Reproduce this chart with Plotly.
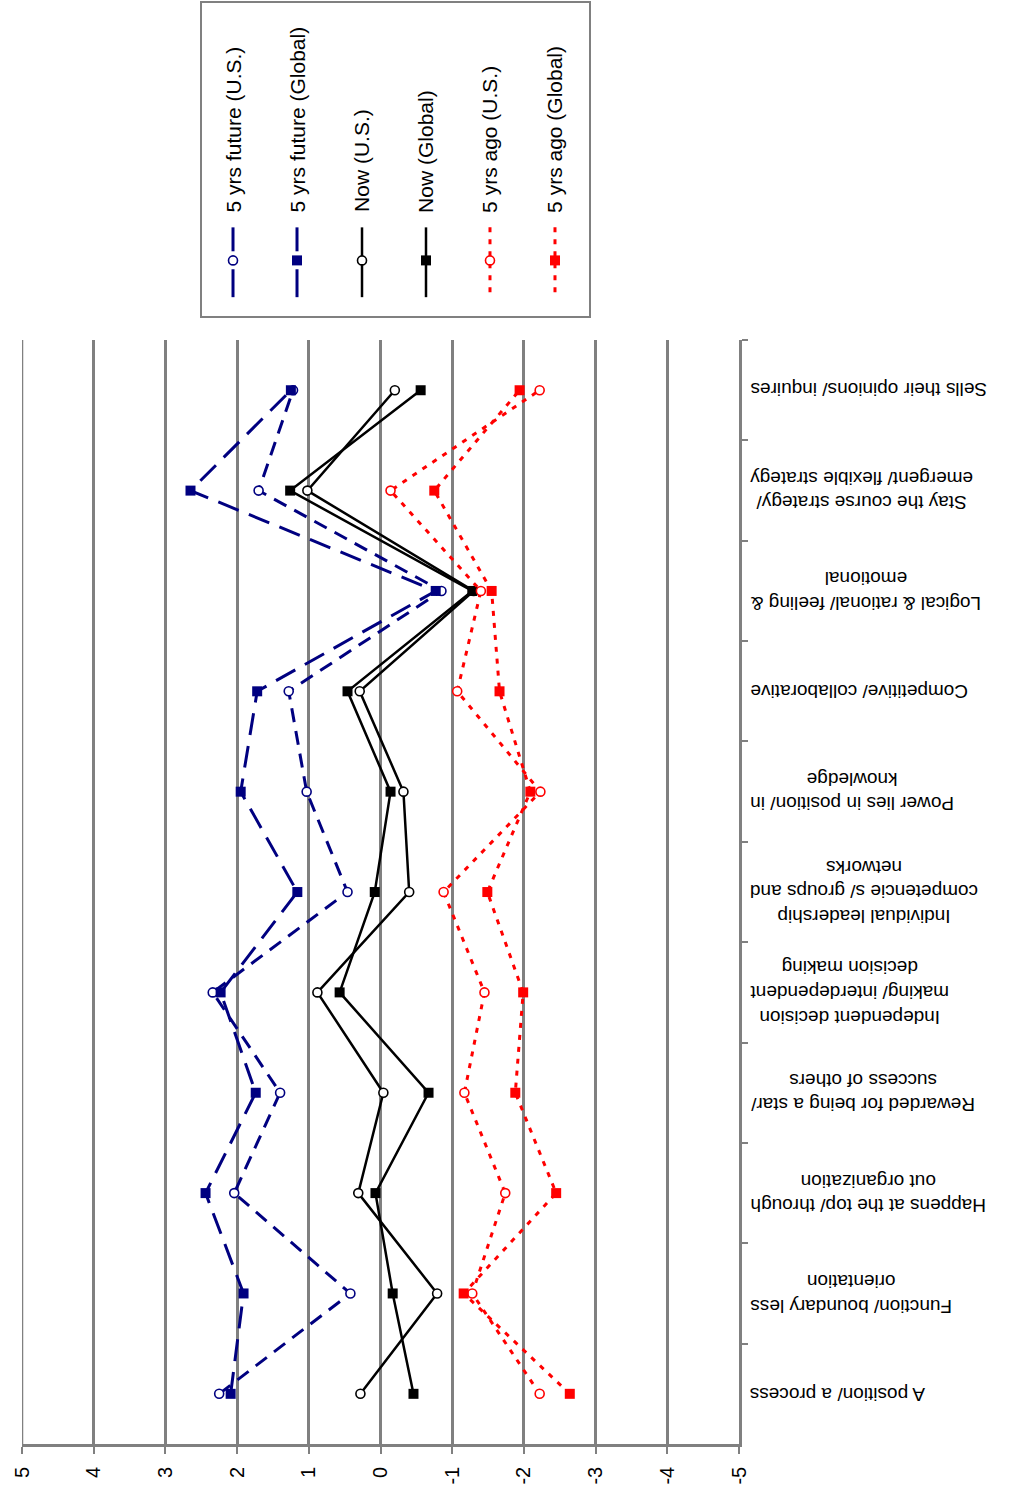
import plotly.graph_objects as go

# ---------------- data ----------------
categories = [
    "A position/ a process",
    "Function/ boundary less<br>orientation",
    "Happens at the top/ through<br>out organization",
    "Rewarded for being a star/<br>success of others",
    "Independent decision<br>making/ interdependent<br>decision making",
    "Individual leadership<br>competencie s/ groups and<br>networks",
    "Power lies in position/ in<br>knowledge",
    "Competitive/ collaborative",
    "Logical & rational/ feeling &<br>emotional",
    "Stay the course strategy/<br>emergent/ flexible strategy",
    "Sells their opinions/ inquires",
]

future_us = [2.25, 0.42, 2.04, 1.40, 2.34, 0.46, 1.03, 1.28, -0.85, 1.70, 1.22]
future_gl = [2.09, 1.91, 2.44, 1.74, 2.23, 1.16, 1.95, 1.72, -0.77, 2.65, 1.25]
now_us = [0.28, -0.79, 0.31, -0.04, 0.88, -0.40, -0.32, 0.29, -1.30, 1.02, -0.20]
now_gl = [-0.46, -0.17, 0.07, -0.67, 0.57, 0.08, -0.14, 0.46, -1.28, 1.26, -0.56]
ago_us = [-2.22, -1.28, -1.74, -1.17, -1.45, -0.88, -2.23, -1.07, -1.40, -0.14, -2.22]
ago_gl = [-2.64, -1.16, -2.45, -1.88, -1.99, -1.49, -2.09, -1.66, -1.55, -0.75, -1.94]

series_names = ["5 yrs future (U.S.)", "5 yrs future (Global)", "Now (U.S.)",
                "Now (Global)", "5 yrs ago (U.S.)", "5 yrs ago (Global)"]
series_values = [future_us, future_gl, now_us, now_gl, ago_us, ago_gl]

value_ticks = [5, 4, 3, 2, 1, 0, -1, -2, -3, -4, -5]
value_tick_text = ["5", "4", "3", "2", "1", "0", "-1", "-2", "-3", "-4", "-5"]

# ---------------- styles ----------------
NAVY = "#000080"
RED = "#FF0000"
BLACK = "#000000"
GRID = "#808080"
FONT = "Liberation Sans, Arial, sans-serif"

styles = [
    dict(color=NAVY, width=3, dash="14px,9px", symbol="circle", open=True, leg="split"),
    dict(color=NAVY, width=3, dash="22px,11px", symbol="square", open=False, leg="split"),
    dict(color=BLACK, width=2.5, dash="solid", symbol="circle", open=True, leg="solid"),
    dict(color=BLACK, width=2.5, dash="solid", symbol="square", open=False, leg="solid"),
    dict(color=RED, width=3, dash="5px,7px", symbol="circle", open=True, leg="dash"),
    dict(color=RED, width=3, dash="5px,7px", symbol="square", open=False, leg="dash"),
]


def marker_for(st):
    if st["open"]:
        return dict(symbol=st["symbol"], size=9, color="white",
                    line=dict(color=st["color"], width=1.6))
    return dict(symbol=st["symbol"], size=10, color=st["color"],
                line=dict(color=st["color"], width=0))


fig = go.Figure()

for name, vals, st in zip(series_names, series_values, styles):
    fig.add_trace(go.Scatter(
        x=vals, y=categories, mode="lines+markers", name=name,
        line=dict(color=st["color"], width=st["width"], dash=st["dash"]),
        marker=marker_for(st), showlegend=False, xaxis="x", yaxis="y",
    ))

# ---------------- manual (rotated) legend ----------------
legend_x = [0.0823, 0.2468, 0.4139, 0.5784, 0.7429, 0.9100]
for lx, name, st in zip(legend_x, series_names, styles):
    if st["leg"] == "split":
        ly = [0.2848, 0.2089, None, 0.1519, 0.0633]
        dash = "solid"
    else:
        ly = [0.2848, 0.0633]
        dash = st["dash"]
    fig.add_trace(go.Scatter(
        x=[lx] * len(ly), y=ly, mode="lines", connectgaps=False,
        line=dict(color=st["color"], width=st["width"], dash=dash),
        showlegend=False, xaxis="x2", yaxis="y2", hoverinfo="skip",
    ))
    fig.add_trace(go.Scatter(
        x=[lx], y=[0.180], mode="markers", marker=marker_for(st),
        showlegend=False, xaxis="x2", yaxis="y2", hoverinfo="skip",
    ))

annotations = []
for lx, name in zip(legend_x, series_names):
    annotations.append(dict(
        x=lx, y=0.326, xref="x2", yref="y2", text=name, showarrow=False,
        textangle=-90, xanchor="center", yanchor="bottom",
        font=dict(family=FONT, size=21, color="black"),
    ))

# category labels (upside down, as in the reference)
for cat in categories:
    annotations.append(dict(
        x=1.0126, y=cat, xref="paper", yref="y", text=cat, showarrow=False,
        textangle=180, xanchor="left", yanchor="middle", align="center",
        font=dict(family=FONT, size=19, color="black"),
    ))

fig.update_layout(
    width=1011, height=1487, autosize=False,
    margin=dict(l=22, r=272, t=2, b=39, pad=0),
    paper_bgcolor="white", plot_bgcolor="white",
    font=dict(family=FONT, color="black"),
    xaxis=dict(
        range=[5, -5], domain=[0, 1], anchor="y",
        tickmode="array", tickvals=value_ticks, ticktext=value_tick_text,
        tickangle=-90, tickfont=dict(family=FONT, size=20, color="black"),
        showgrid=True, gridcolor=GRID, gridwidth=2.5, zeroline=False,
        showline=True, linecolor=GRID, linewidth=2.5,
        ticks="outside", ticklen=7, tickwidth=2, tickcolor=GRID,
        ticklabelstandoff=5,
    ),
    yaxis=dict(
        type="category", categoryorder="array", categoryarray=categories,
        range=[-0.5, 10.5], domain=[0, 0.76556], anchor="x", side="right",
        showline=True, linecolor=GRID, linewidth=2.5, showgrid=False,
        ticks="outside", tickson="boundaries", ticklen=6, tickwidth=2,
        tickcolor=GRID, showticklabels=False, zeroline=False,
    ),
    xaxis2=dict(domain=[0.24965, 0.79219], range=[0, 1], anchor="y2",
                visible=False, fixedrange=True),
    yaxis2=dict(domain=[0.78147, 1.0], range=[0, 1], anchor="x2",
                visible=False, fixedrange=True),
    shapes=[
        dict(type="rect", xref="x2 domain", yref="y2 domain",
             x0=0, x1=1, y0=0, y1=1,
             line=dict(color=GRID, width=2), fillcolor="rgba(0,0,0,0)"),
        # gridline at the left edge (value 5), which Plotly skips at the range end
        dict(type="line", xref="x", yref="y domain", x0=value_ticks[0],
             x1=value_ticks[0], y0=0, y1=1, layer="below",
             line=dict(color=GRID, width=2.5)),
    ],
    annotations=annotations,
)

fig.write_html(
    "out.html",
    config={"displayModeBar": False},
    post_script="document.body.style.margin='0px';"
                "document.body.style.overflow='hidden';",
)
